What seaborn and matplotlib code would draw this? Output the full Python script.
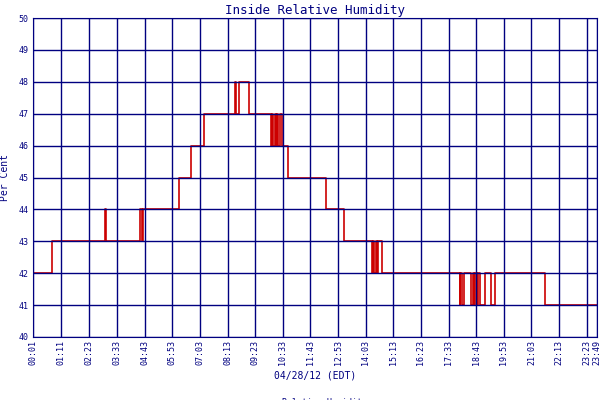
import matplotlib
matplotlib.use("Agg")
import matplotlib.pyplot as plt
import seaborn as sns
import pandas as pd

minutes = [0, 48, 182, 184, 187, 272, 276, 278, 280, 370, 400, 433, 511, 514, 519, 522, 547,
           602, 606, 609, 612, 615, 619, 622, 627, 630, 647, 743, 788, 859, 862, 865, 868, 871, 874, 878, 884,
           1081, 1083, 1087, 1091, 1096, 1110, 1114, 1118, 1121, 1125, 1128, 1132, 1142, 1146, 1160, 1170, 1297, 1428]
humidity = [42, 43, 44, 43, 43, 44, 43, 44, 44, 45, 46, 47, 48, 47, 47, 48, 47,
            46, 47, 46, 47, 46, 47, 46, 47, 46, 45, 44, 43, 42, 43, 42, 43, 42, 43, 43, 42,
            41, 42, 41, 42, 42, 41, 42, 41, 42, 41, 42, 41, 41, 42, 41, 42, 41, 41]
tick_minutes = [1, 71, 143, 213, 283, 353, 423, 493, 563, 633, 703, 773, 843, 913, 983,
                1053, 1123, 1193, 1263, 1333, 1403, 1429]
tick_labels = ["00:01", "01:11", "02:23", "03:33", "04:43", "05:53", "07:03", "08:13", "09:23",
               "10:33", "11:43", "12:53", "14:03", "15:13", "16:23", "17:33", "18:43", "19:53",
               "21:03", "22:13", "23:23", "23:49"]

df = pd.DataFrame({"t": minutes, "h": humidity})
sns.set_style("white")
plt.rcParams['font.family'] = ['DejaVu Sans Mono']
navy = "#000080"
fig = plt.figure(figsize=(6, 4), dpi=100)
ax = fig.add_axes([0.055, 0.1575, 0.94, 0.7975])
sns.lineplot(data=df, x="t", y="h", drawstyle="steps-post", color="#cc0000", lw=1.2, ax=ax,
             label="Relative Humidity", zorder=1)
ax.set_xlim(0, 1428)
ax.set_ylim(40, 50)
ax.set_yticks(range(40, 51))
ax.set_xticks(tick_minutes)
ax.set_xticklabels(tick_labels, rotation=90, fontsize=6, color=navy)
ax.tick_params(axis='y', labelsize=6, colors=navy, length=0)
ax.tick_params(axis='x', length=0, pad=2)
ax.grid(True, color=navy, lw=1, zorder=2)
ax.set_axisbelow(False)
for s in ax.spines.values():
    s.set_color(navy)
ax.set_title("Inside Relative Humidity", fontsize=9, color=navy, pad=3)
ax.set_ylabel("Per Cent", fontsize=7, color=navy, labelpad=6)
ax.set_xlabel("04/28/12 (EDT)", fontsize=7, color=navy, labelpad=4)
leg = ax.legend(loc="upper center", bbox_to_anchor=(0.5, -0.175), frameon=False, fontsize=6,
                handlelength=1.5, labelcolor=navy, borderpad=0.1)
fig.savefig("out.png", dpi=100)
